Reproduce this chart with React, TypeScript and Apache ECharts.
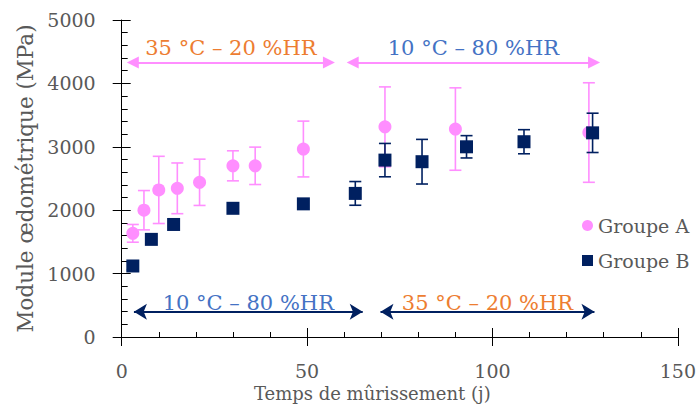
import React, { useEffect, useRef } from "react";
import * as echarts from "echarts";

// Groupe A (pink circles)
const xA = [3, 6, 10, 15, 21, 30, 36, 49, 71, 90, 126];
const yA = [1635, 2000, 2320, 2345, 2440, 2700, 2700, 2965, 3315, 3280, 3225];
const errA = [140, 310, 530, 400, 365, 237, 295, 440, 630, 650, 785];

// Groupe B (navy squares)
const xB = [3, 8, 14, 30, 49, 63, 71, 81, 93, 108.5, 127];
const yB = [1120, 1540, 1775, 2030, 2100, 2265, 2790, 2765, 3000, 3080, 3220];
const errB = [60, 0, 0, 0, 0, 187, 263, 352, 176, 190, 310];

// Period annotations: [label, from day, to day, level MPa]
const topPeriods: [string, number, number, number][] = [
  ["35 °C – 20 %HR", 3, 55.9, 4330],
  ["10 °C – 80 %HR", 62.3, 127.4, 4330],
];
const bottomPeriods: [string, number, number, number][] = [
  ["10 °C – 80 %HR", 3.3, 65, 400],
  ["35 °C – 20 %HR", 69.8, 127.5, 400],
];

const xTicks = { min: 0, max: 150, interval: 50 };
const yTicks = { min: 0, max: 5000, interval: 1000 };

const PINK = "#FF8EFF";
const NAVY = "#002060";
const ORANGE = "#ED7D31";
const BLUE = "#4472C4";
const GRAY = "#595959";
const FONT = "DejaVu Serif";

function errRender(color: string) {
  return (params: any, api: any) => {
    const x = api.value(0);
    const y = api.value(1);
    const e = api.value(2);
    if (!e) return { type: "group", children: [] };
    const top = api.coord([x, y + e]);
    const bot = api.coord([x, y - e]);
    const w = 6;
    const style = { stroke: color, lineWidth: 1.6 };
    return {
      type: "group",
      children: [
        { type: "line", shape: { x1: top[0], y1: top[1], x2: bot[0], y2: bot[1] }, style },
        { type: "line", shape: { x1: top[0] - w, y1: top[1], x2: top[0] + w, y2: top[1] }, style },
        { type: "line", shape: { x1: bot[0] - w, y1: bot[1], x2: bot[0] + w, y2: bot[1] }, style },
      ],
    };
  };
}

function periodColor(label: string) {
  return label.startsWith("35") ? ORANGE : BLUE;
}

export default function App() {
  const ref = useRef<HTMLDivElement>(null);
  useEffect(() => {
    if (!ref.current) return;
    const chart = echarts.init(ref.current, null, { renderer: "svg" });

    const baseX = {
      type: "value",
      min: xTicks.min,
      max: xTicks.max,
      interval: xTicks.interval,
      position: "bottom",
      splitLine: { show: false },
      axisLine: { onZero: false, lineStyle: { color: "#000", width: 1 } },
    };
    const baseY = {
      type: "value",
      min: yTicks.min,
      max: yTicks.max,
      interval: yTicks.interval,
      position: "left",
      splitLine: { show: false },
      axisLine: { show: true, onZero: false, lineStyle: { color: "#000", width: 1 } },
    };

    const markTop = topPeriods.map(([t, a, b, lv]) => [
      {
        coord: [a, lv],
        label: { show: true, formatter: t, position: "middle", distance: 4, color: periodColor(t), fontSize: 21, fontFamily: FONT },
        lineStyle: { color: PINK, width: 2, type: "solid" },
      },
      { coord: [b, lv] },
    ]);
    const markBottom = bottomPeriods.map(([t, a, b, lv]) => [
      {
        coord: [a, lv],
        label: { show: true, formatter: t, position: "middle", distance: -2, color: periodColor(t), fontSize: 21, fontFamily: FONT },
        lineStyle: { color: NAVY, width: 2, type: "solid" },
      },
      { coord: [b, lv] },
    ]);

    chart.setOption({
      animation: false,
      grid: { left: 121.7, right: 21, top: 20, bottom: 73, containLabel: false },
      legend: {
        orient: "vertical",
        left: 577,
        top: 211,
        itemWidth: 11,
        itemHeight: 11,
        itemGap: 16,
        textStyle: { color: GRAY, fontSize: 19, fontFamily: FONT },
        data: [
          { name: "Groupe A", icon: "circle" },
          { name: "Groupe B", icon: "rect" },
        ],
      },
      xAxis: [
        {
          ...baseX,
          name: "Temps de mûrissement (j)",
          nameLocation: "middle",
          nameGap: 38,
          nameTextStyle: { color: GRAY, fontSize: 18, fontFamily: FONT, padding: [0, 55, 0, 0] },
          axisTick: { show: true, inside: false, length: 9, lineStyle: { color: "#000" } },
          axisLabel: { color: GRAY, fontSize: 19, fontFamily: FONT, margin: 24 },
        },
        {
          ...baseX,
          axisLine: { show: false, onZero: false },
          axisTick: { show: true, inside: true, length: 9, lineStyle: { color: "#000" } },
          minorTick: { show: true, splitNumber: 5, length: 5, lineStyle: { color: "#000" } },
          axisLabel: { show: false },
        },
      ],
      yAxis: [
        {
          ...baseY,
          name: "Module œdométrique (MPa)",
          nameLocation: "middle",
          nameGap: 81,
          nameTextStyle: { color: GRAY, fontSize: 21.5, fontFamily: FONT },
          axisTick: { show: true, inside: false, length: 9, lineStyle: { color: "#000" } },
          axisLabel: { color: GRAY, fontSize: 19, fontFamily: FONT, margin: 26, formatter: (v: number) => String(v) },
        },
        {
          ...baseY,
          axisLine: { show: false, onZero: false },
          axisTick: { show: true, inside: true, length: 9, lineStyle: { color: "#000" } },
          minorTick: { show: true, splitNumber: 5, length: 6, lineStyle: { color: "#000" } },
          axisLabel: { show: false },
        },
      ],
      series: [
        {
          name: "errA",
          type: "custom",
          renderItem: errRender(PINK),
          data: xA.map((x, i) => [x, yA[i], errA[i]]),
          silent: true,
        },
        {
          name: "Groupe A",
          type: "scatter",
          symbol: "circle",
          symbolSize: 13,
          itemStyle: { color: PINK, opacity: 1 },
          data: xA.map((x, i) => [x, yA[i]]),
          markLine: {
            silent: true,
            symbol: ["triangle", "triangle"],
            symbolSize: [12, 12],
            data: markTop,
          },
        },
        {
          name: "errB",
          type: "custom",
          renderItem: errRender(NAVY),
          data: xB.map((x, i) => [x, yB[i], errB[i]]),
          silent: true,
        },
        {
          name: "Groupe B",
          type: "scatter",
          symbol: "rect",
          symbolSize: 13,
          itemStyle: { color: NAVY, opacity: 1 },
          data: xB.map((x, i) => [x, yB[i]]),
          markLine: {
            silent: true,
            symbol: ["arrow", "arrow"],
            symbolSize: [12, 13],
            data: markBottom,
          },
        },
      ],
    });
    return () => chart.dispose();
  }, []);
  return <div ref={ref} style={{ width: 699, height: 410, position: "absolute", left: 0, top: 0 }} />;
}
